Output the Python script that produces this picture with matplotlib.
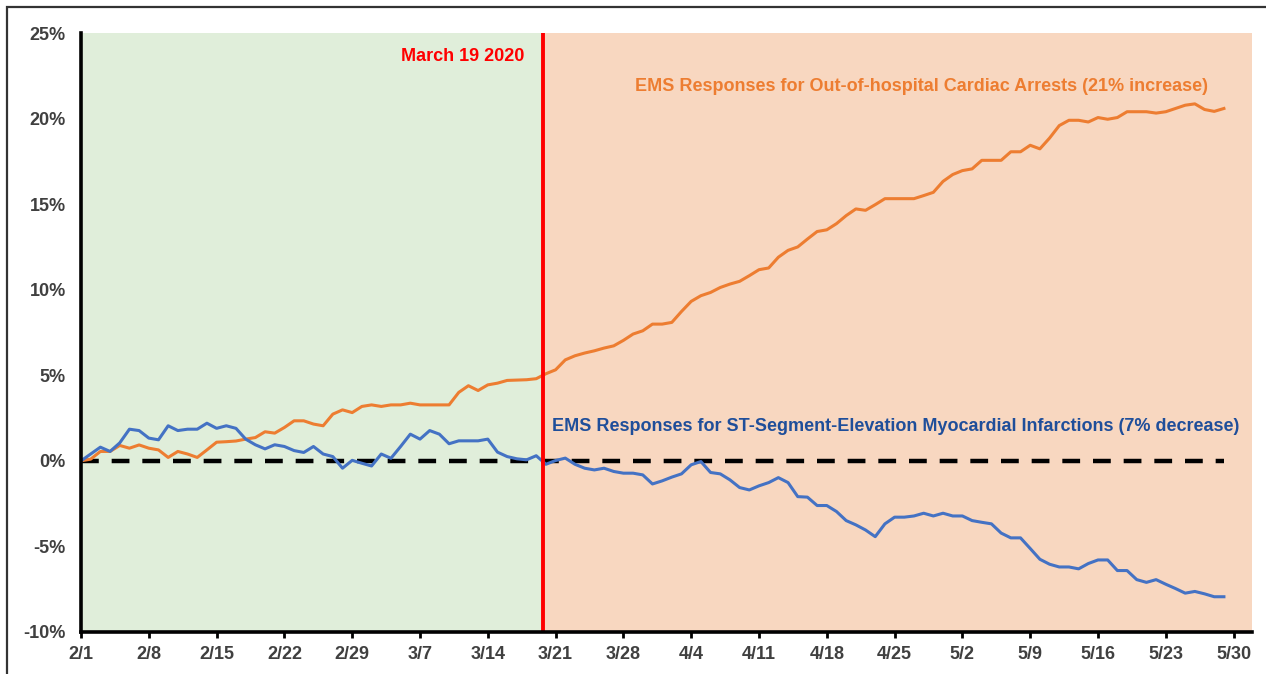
#!/usr/bin/env python3

"""Daily EMS responses, change since 2/1/2020: cardiac arrests vs STEMI."""

import matplotlib
matplotlib.use("Agg")
import matplotlib.pyplot as plt
from matplotlib.patches import Rectangle
import numpy as np

# days since 2/1/2020 (2020 is a leap year: 2/29 exists)
tick_days = list(range(0, 120, 7))
tick_labels = ["2/1", "2/8", "2/15", "2/22", "2/29", "3/7", "3/14", "3/21",
               "3/28", "4/4", "4/11", "4/18", "4/25", "5/2", "5/9", "5/16",
               "5/23", "5/30"]
lockdown_day = 47.65  # March 19 2020 marker as drawn

# cumulative % change, one value per day from 2/1 to 5/29
cardiac_arrest = [
    0.0, 0.1, 0.55, 0.55, 0.9, 0.74, 0.93, 0.74, 0.64, 0.2,
    0.55, 0.4, 0.2, 0.64, 1.09, 1.12, 1.16, 1.27, 1.36, 1.7,
    1.62, 1.95, 2.34, 2.34, 2.15, 2.05, 2.73, 2.98, 2.82, 3.18,
    3.27, 3.18, 3.27, 3.27, 3.37, 3.27, 3.27, 3.27, 3.27, 4.0,
    4.39, 4.11, 4.44, 4.54, 4.7, 4.72, 4.74, 4.8, 5.09, 5.32,
    5.9, 6.14, 6.3, 6.43, 6.59, 6.72, 7.04, 7.41, 7.6, 7.99,
    7.99, 8.09, 8.73, 9.32, 9.65, 9.84, 10.13, 10.33, 10.49, 10.82,
    11.17, 11.27, 11.9, 12.3, 12.5, 12.96, 13.4, 13.5, 13.86, 14.33,
    14.72, 14.64, 14.97, 15.32, 15.32, 15.32, 15.32, 15.5, 15.69, 16.33,
    16.73, 16.96, 17.06, 17.56, 17.56, 17.56, 18.06, 18.06, 18.44, 18.23,
    18.86, 19.59, 19.9, 19.9, 19.8, 20.06, 19.96, 20.06, 20.4, 20.4,
    20.4, 20.32, 20.4, 20.59, 20.78, 20.86, 20.53, 20.42, 20.59,
]
stemi = [
    0.0, 0.4, 0.8, 0.55, 1.05, 1.85, 1.77, 1.33, 1.23, 2.05,
    1.77, 1.85, 1.85, 2.2, 1.9, 2.05, 1.9, 1.27, 0.94, 0.7,
    0.94, 0.84, 0.6, 0.49, 0.84, 0.4, 0.25, -0.43, 0.03, -0.14,
    -0.3, 0.4, 0.15, 0.84, 1.56, 1.27, 1.77, 1.56, 1.0, 1.17,
    1.17, 1.17, 1.27, 0.51, 0.25, 0.12, 0.06, 0.3, -0.2, 0.02,
    0.16, -0.2, -0.43, -0.53, -0.43, -0.62, -0.72, -0.72, -0.82, -1.35,
    -1.17, -0.95, -0.76, -0.23, -0.04, -0.68, -0.76, -1.11, -1.56, -1.7,
    -1.46, -1.27, -0.98, -1.27, -2.09, -2.12, -2.61, -2.61, -2.96, -3.49,
    -3.74, -4.04, -4.43, -3.68, -3.29, -3.29, -3.22, -3.06, -3.22, -3.06,
    -3.22, -3.22, -3.49, -3.59, -3.68, -4.22, -4.5, -4.5, -5.12, -5.75,
    -6.04, -6.2, -6.2, -6.31, -6.0, -5.79, -5.79, -6.41, -6.41, -6.94,
    -7.1, -6.94, -7.21, -7.46, -7.73, -7.63, -7.77, -7.94, -7.94,
]
y_ticks = [-10, -5, 0, 5, 10, 15, 20, 25]

ORANGE = "#ED7D31"
BLUE = "#4472C4"
DARK_BLUE = "#1F4E9A"
TICK_GRAY = "#404040"
NARROW = ["Liberation Sans Narrow", "Liberation Sans", "DejaVu Sans"]


def main():
    days = np.arange(len(cardiac_arrest))
    xmax = 120.9

    fig = plt.figure(figsize=(12.66, 6.74), dpi=100)
    ax = fig.add_axes([81 / 1266, 1 - 632 / 674, (1252 - 81) / 1266, (632 - 33) / 674])

    # frame around the whole picture (only top/left fall inside the image)
    fig.patches.append(Rectangle((7 / 1266, -0.1), 1.2, 1 - 7 / 674 + 0.1,
                                 transform=fig.transFigure, fill=False,
                                 edgecolor="#333333", linewidth=1.6))

    ax.axvspan(0, lockdown_day, color="#E0EEDA", zorder=0, linewidth=0)
    ax.axvspan(lockdown_day, xmax, color="#F8D7C0", zorder=0, linewidth=0)

    ax.plot(days, np.zeros_like(days, dtype=float), color="black",
            linewidth=3.2, dashes=(4.0, 2.9), zorder=2)
    ax.plot(days, cardiac_arrest, color=ORANGE, linewidth=2.2, zorder=3)
    ax.plot(days, stemi, color=BLUE, linewidth=2.2, zorder=3)
    ax.axvline(lockdown_day, color="#FF0000", linewidth=2.8, zorder=4)

    ax.text(lockdown_day - 1.9, 23.6, "March 19 2020", color="#FF0000",
            fontsize=13, fontweight="bold", family="Liberation Sans",
            ha="right", va="center")
    ax.text(86.8, 21.9,
            "EMS Responses for Out-of-hospital Cardiac Arrests (21% increase)",
            color=ORANGE, fontsize=13, fontweight="bold",
            family="Liberation Sans", ha="center", va="center")
    ax.text(84.1, 2.0,
            "EMS Responses for ST-Segment-Elevation Myocardial Infarctions (7% decrease)",
            color=DARK_BLUE, fontsize=13, fontweight="bold",
            family="Liberation Sans", ha="center", va="center")

    ax.set_xlim(0, xmax)
    ax.set_ylim(-10, 25)
    ax.set_xticks(tick_days)
    ax.set_xticklabels(tick_labels)
    ax.set_yticks(y_ticks)
    ax.set_yticklabels([f"{v}%" for v in y_ticks])
    for lab in ax.get_xticklabels() + ax.get_yticklabels():
        lab.set_family(NARROW)
        lab.set_fontweight("bold")
        lab.set_fontsize(13)
        lab.set_color(TICK_GRAY)

    ax.tick_params(axis="x", direction="out", length=4, width=2,
                   color="black", pad=6)
    ax.tick_params(axis="y", length=0, pad=11)
    for side in ("top", "right"):
        ax.spines[side].set_visible(False)
    for side in ("left", "bottom"):
        ax.spines[side].set_linewidth(2.6)
        ax.spines[side].set_color("black")
        ax.spines[side].set_zorder(5)

    fig.savefig("out.png", dpi=100)


if __name__ == "__main__":
    main()
